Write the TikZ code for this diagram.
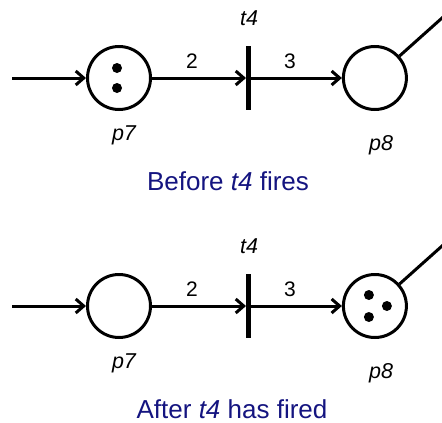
\documentclass[tikz,border=0pt]{standalone}
\usepackage{fontspec}
\setmainfont{Liberation Sans}
\usetikzlibrary{arrows.meta,positioning}
\definecolor{capblue}{RGB}{20,20,128}

\begin{document}
\begin{tikzpicture}[x=1pt, y=-1pt,
  place/.style={circle, draw, line width=3pt, minimum size=63pt, inner sep=0pt},
  trans/.style={fill=black, minimum width=4.5pt, minimum height=64pt, inner sep=0pt},
  token/.style={circle, fill=black, minimum size=10pt, inner sep=0pt},
  arc/.style={-{Straight Barb[length=8pt, width=14pt]}, line width=3pt},
  tag/.style={font=\fontsize{21.5}{26}\selectfont\itshape, anchor=base, inner sep=0pt},
  weight/.style={font=\fontsize{21}{26}\selectfont, anchor=base, inner sep=0pt},
  caption/.style={font=\fontsize{26}{31}\selectfont, text=capblue, anchor=base, inner sep=0pt}]
  \clip (0,0) rectangle (442,423);
  % before firing
  \node[place] (p7a) at (119,78) {};
  \node[trans, right=94pt of p7a] (t4a) {};
  \node[place, right=91pt of t4a] (p8a) {};
  \coordinate (ina) at (12,78);
  \coordinate (outa) at (470,-7);
  \node[token] (k1a) at ([shift={(-2,-10)}]p7a.center) {};
  \node[token] (k2a) at ([shift={(-2,10)}]p7a.center) {};
  \draw[arc] (ina) -- (p7a);
  \draw[arc] (p7a) -- (t4a);
  \draw[arc] (t4a) -- (p8a);
  \draw[line width=3pt] (p8a) -- (outa);
  \node[weight] (w2a) at (192,68) {2};
  \node[weight] (w3a) at (290,68) {3};
  \node[tag] (lt4a) at (249,25) {t4};
  \node[tag] (lp7a) at (124,140) {p7};
  \node[tag] (lp8a) at (381,150) {p8};
  \node[caption] (capa) at (228,190) {Before \textit{t4} fires};
  % after firing
  \begin{scope}[yshift=-228pt]
    \node[place] (p7b) at (119,78) {};
    \node[trans, right=94pt of p7b] (t4b) {};
    \node[place, right=91pt of t4b] (p8b) {};
    \coordinate (inb) at (12,78);
    \coordinate (outb) at (470,-7);
    \node[token] (k1b) at ([shift={(-6,-11)}]p8b.center) {};
    \node[token] (k2b) at ([shift={(12,0)}]p8b.center) {};
    \node[token] (k3b) at ([shift={(-6,11)}]p8b.center) {};
    \draw[arc] (inb) -- (p7b);
    \draw[arc] (p7b) -- (t4b);
    \draw[arc] (t4b) -- (p8b);
    \draw[line width=3pt] (p8b) -- (outb);
    \node[weight] (w2b) at (192,68) {2};
    \node[weight] (w3b) at (290,68) {3};
    \node[tag] (lt4b) at (249,25) {t4};
    \node[tag] (lp7b) at (124,140) {p7};
    \node[tag] (lp8b) at (381,150) {p8};
    \node[caption] (capb) at (232,190) {After \textit{t4} has fired};
  \end{scope}
\end{tikzpicture}
\end{document}
